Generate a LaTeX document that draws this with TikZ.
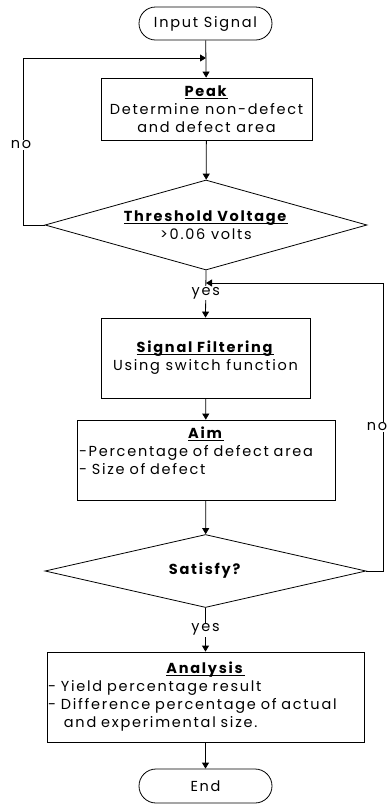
\documentclass[tikz,border=0pt]{standalone}
\usepackage{fontspec}
\setmainfont[LetterSpace=12]{Poppins}
\usetikzlibrary{shapes.geometric,shapes.misc,arrows.meta}

% bold heading with a rule just under the baseline
\newcommand{\hd}[1]{\underbar{\textbf{#1}}}

\tikzset{
  base/.style={draw, line width=0.8pt, inner sep=1pt, align=center,
    font=\fontsize{14.5}{18}\selectfont},
  proc/.style={base, rectangle},
  term/.style={base, rounded rectangle, minimum width=135pt, minimum height=33pt},
  dec/.style={base, diamond, inner sep=0pt},
  conn/.style={line width=0.8pt, -{Triangle[length=6pt,width=7pt]}},
  lbl/.style={fill=white, inner sep=1pt, font=\fontsize{14.5}{18}\selectfont}
}

\begin{document}
\begin{tikzpicture}[x=1pt,y=-1pt]
  \useasboundingbox (0,0) rectangle (390,804);

  % blocks
  \node[term] (in) at (205.5,23.5) {Input Signal};
  \node[proc, minimum width=211pt, minimum height=62pt] (peak) at (206.5,109)
    {\hd{Peak}\\Determine non-defect\\and defect area};
  \node[dec, aspect=3.6, minimum width=322pt, minimum height=90pt] (thr) at (206,225)
    {\hd{Threshold Voltage}\\>0.06 volts};
  \node[proc, minimum width=209pt, minimum height=80pt] (filt) at (205.5,358)
    {\hd{Signal Filtering}\\Using switch function};
  \node[proc, minimum width=258pt, minimum height=80pt, text width=254pt, align=left] (aim) at (206,460)
    {\hfill\hd{Aim}\hfill\null\\-Percentage of defect area\\- Size of defect\\\null};
  \node[dec, aspect=4.4, minimum width=321pt, minimum height=73pt] (sat) at (205.5,571)
    {\textbf{Satisfy?}};
  \node[proc, minimum width=317pt, minimum height=90pt, text width=315pt, align=left] (ana) at (205.5,697)
    {\hfill\hd{Analysis}\hfill\null\\- Yield percentage result\\- Difference percentage of actual\\\hspace*{1.1em}and experimental size.};
  \node[term, minimum height=34pt] (end) at (205.5,786) {End};

  % junction points of the loops
  \coordinate (j1) at (206,58);
  \coordinate (j2) at (206,283);

  % main flow
  \draw[conn] (in) -- (peak);
  \draw[conn] (peak) -- (thr);
  \draw[conn] (thr.south) -- (filt.north) node[lbl, pos=0.48] {yes};
  \draw[conn] (filt) -- (aim);
  \draw[conn] (aim) -- (sat);
  \draw[conn] (sat.south) -- (ana.north) node[lbl, pos=0.5] {yes};
  \draw[conn] (ana) -- (end);

  % "no" loops
  \draw[conn] (thr.west) -| (23,58) node[lbl, pos=0.74, xshift=-2pt] {no} -- (j1);
  \draw[conn] (sat.east) -| (383,283) node[lbl, pos=0.75, xshift=-6pt] {no} -- (j2);
\end{tikzpicture}
\end{document}
